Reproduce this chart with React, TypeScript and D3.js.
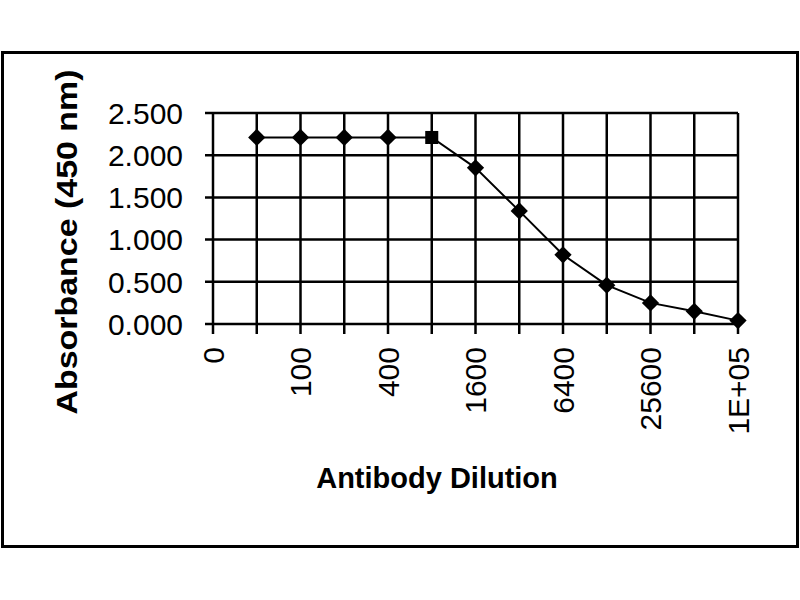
import { useEffect, useRef } from 'react';
import * as d3 from 'd3';

// dilution categories (the first one has no reading)
const categories = ['0', '50', '100', '200', '400', '800', '1600', '3200', '6400', '12800', '25600', '51200', '1E+05'];
const absorbance: (number | null)[] = [null, 2.21, 2.21, 2.21, 2.21, 2.21, 1.85, 1.34, 0.82, 0.46, 0.25, 0.15, 0.04];
const markerShapes = ['', 'diamond', 'diamond', 'diamond', 'diamond', 'square', 'diamond', 'diamond', 'diamond', 'diamond', 'diamond', 'diamond', 'diamond'];
const yTicks = [0, 0.5, 1, 1.5, 2, 2.5];
const xLabelEvery = 2;

export default function App() {
  const svgRef = useRef<SVGSVGElement>(null);

  useEffect(() => {
    if (!svgRef.current) return;
    const svg = d3.select(svgRef.current);
    svg.selectAll('*').remove();

    const width = 800;
    const height = 600;
    const plot = { left: 213, right: 738, top: 113, bottom: 324 };
    const font = '"Liberation Sans", Arial, sans-serif';

    svg.append('rect')
      .attr('width', width)
      .attr('height', height)
      .attr('fill', '#fff');

    // outer frame
    svg.append('rect')
      .attr('x', 2.5)
      .attr('y', 52.5)
      .attr('width', 795)
      .attr('height', 494)
      .attr('fill', 'none')
      .attr('stroke', '#000')
      .attr('stroke-width', 3);

    const x = d3.scalePoint<string>()
      .domain(categories)
      .range([plot.left, plot.right]);

    const y = d3.scaleLinear()
      .domain([0, 2.5])
      .range([plot.bottom, plot.top]);

    const g = svg.append('g');

    // horizontal grid + y ticks
    g.selectAll('.hgrid')
      .data(yTicks)
      .enter()
      .append('line')
      .attr('x1', plot.left - 8)
      .attr('x2', plot.right)
      .attr('y1', d => y(d))
      .attr('y2', d => y(d))
      .attr('stroke', '#000')
      .attr('stroke-width', 2.5);

    // vertical grid + x ticks
    g.selectAll('.vgrid')
      .data(categories)
      .enter()
      .append('line')
      .attr('x1', d => x(d) || 0)
      .attr('x2', d => x(d) || 0)
      .attr('y1', plot.top)
      .attr('y2', plot.bottom + 10)
      .attr('stroke', '#000')
      .attr('stroke-width', 2.5);

    // y tick labels
    g.selectAll('.ylab')
      .data(yTicks)
      .enter()
      .append('text')
      .attr('x', 183)
      .attr('y', d => y(d))
      .attr('dy', '0.36em')
      .attr('text-anchor', 'end')
      .attr('font-family', font)
      .attr('font-size', 30)
      .attr('fill', '#000')
      .text(d => d3.format('.3f')(d));

    // x tick labels (every other category)
    g.selectAll('.xlab')
      .data(categories.filter((_, i) => i % xLabelEvery === 0))
      .enter()
      .append('text')
      .attr('transform', d => `translate(${x(d)},${plot.bottom + 23}) rotate(-90)`)
      .attr('dy', '0.36em')
      .attr('text-anchor', 'end')
      .attr('font-family', font)
      .attr('font-size', 30)
      .attr('fill', '#000')
      .text(d => d);

    // data line
    const points = categories.map((c, i) => ({ c, v: absorbance[i], shape: markerShapes[i] }));
    const line = d3.line<{ c: string; v: number | null }>()
      .defined(d => d.v != null)
      .x(d => x(d.c) || 0)
      .y(d => y(d.v as number));

    g.append('path')
      .datum(points)
      .attr('d', line)
      .attr('fill', 'none')
      .attr('stroke', '#000')
      .attr('stroke-width', 2);

    const diamond = d3.symbol().type(d3.symbolDiamond2).size(190);
    const square = d3.symbol().type(d3.symbolSquare).size(170);

    g.selectAll('.marker')
      .data(points.filter(d => d.v != null))
      .enter()
      .append('path')
      .attr('transform', d => `translate(${x(d.c)},${y(d.v as number)})`)
      .attr('d', d => (d.shape === 'square' ? square() : diamond()) as string)
      .attr('fill', '#000');

    // axis titles
    svg.append('text')
      .attr('transform', `translate(77,242) rotate(-90)`)
      .attr('text-anchor', 'middle')
      .attr('font-family', font)
      .attr('font-weight', 'bold')
      .attr('font-size', 30)
      .attr('textLength', 345)
      .attr('lengthAdjust', 'spacingAndGlyphs')
      .attr('fill', '#000')
      .text('Absorbance (450 nm)');

    svg.append('text')
      .attr('x', 437)
      .attr('y', 488)
      .attr('text-anchor', 'middle')
      .attr('font-family', font)
      .attr('font-weight', 'bold')
      .attr('font-size', 29)
      .attr('fill', '#000')
      .text('Antibody Dilution');
  }, []);

  return (
    <div style={{ position: 'absolute', left: 0, top: 0 }}>
      <svg ref={svgRef} width={800} height={600} style={{ display: 'block' }} />
    </div>
  );
}
